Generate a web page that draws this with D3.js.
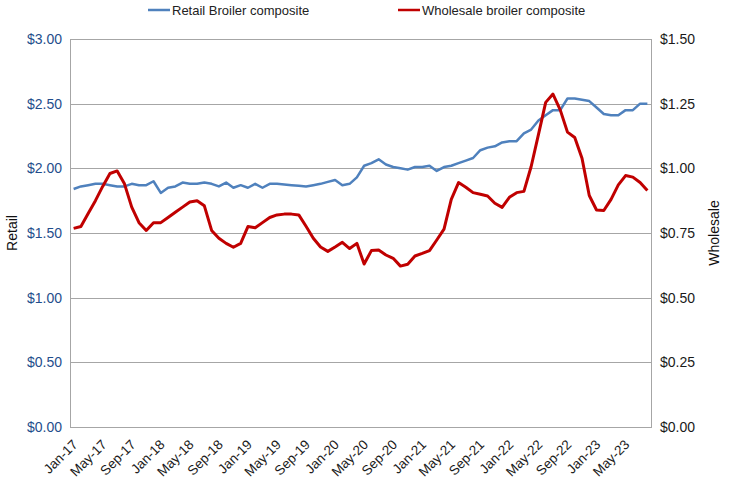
<!doctype html>
<html>

<head>
    <meta charset="UTF-8">
    <title>broiler composite</title>
    <script src="https://d3js.org/d3.v7.min.js"></script>
    <style>
        body {
            margin: 0;
            background: #fff;
        }

        text {
            font-family: "Liberation Sans", Arial, sans-serif;
        }
    </style>
</head>

<body>
    <svg width="737" height="486"></svg>
    <script>
        // monthly categories Jan-17 .. Aug-23
        var monthNames = ["Jan", "Feb", "Mar", "Apr", "May", "Jun", "Jul", "Aug", "Sep", "Oct", "Nov", "Dec"];
        var years = ["17", "18", "19", "20", "21", "22", "23"];
        var months = [];
        years.forEach(function (y) {
            monthNames.forEach(function (m) {
                if (months.length < 80) months.push(m + "-" + y);
            });
        });

        var tickLabels = ["Jan-17", "May-17", "Sep-17", "Jan-18", "May-18", "Sep-18", "Jan-19", "May-19", "Sep-19",
            "Jan-20", "May-20", "Sep-20", "Jan-21", "May-21", "Sep-21", "Jan-22", "May-22", "Sep-22", "Jan-23", "May-23"];

        var retail = [1.84, 1.86, 1.87, 1.88, 1.88, 1.87, 1.86, 1.86, 1.88, 1.87, 1.87, 1.90,
            1.81, 1.85, 1.86, 1.89, 1.88, 1.88, 1.89, 1.88, 1.86, 1.89, 1.85, 1.87,
            1.85, 1.88, 1.85, 1.88, 1.88, 1.875, 1.87, 1.865, 1.86, 1.87, 1.88, 1.895,
            1.91, 1.87, 1.88, 1.93, 2.02, 2.04, 2.07, 2.03, 2.01, 2.00, 1.99, 2.01,
            2.01, 2.02, 1.98, 2.01, 2.02, 2.04, 2.06, 2.08, 2.14, 2.16, 2.17, 2.20,
            2.21, 2.21, 2.27, 2.30, 2.37, 2.41, 2.45, 2.45, 2.54, 2.54, 2.53, 2.52,
            2.47, 2.42, 2.41, 2.41, 2.45, 2.45, 2.50, 2.50];

        var wholesale = [0.768, 0.775, 0.825, 0.875, 0.93, 0.98, 0.99, 0.94, 0.85, 0.79, 0.76, 0.79,
            0.79, 0.81, 0.83, 0.85, 0.87, 0.875, 0.855, 0.76, 0.73, 0.71, 0.695, 0.71,
            0.775, 0.77, 0.79, 0.81, 0.82, 0.823, 0.823, 0.82, 0.776, 0.73, 0.696, 0.679,
            0.696, 0.714, 0.69, 0.71, 0.63, 0.682, 0.684, 0.665, 0.652, 0.622, 0.629, 0.661,
            0.671, 0.682, 0.723, 0.765, 0.88, 0.945, 0.927, 0.906, 0.90, 0.893, 0.865, 0.849,
            0.888, 0.906, 0.911, 1.007, 1.13, 1.255, 1.287, 1.226, 1.14, 1.119, 1.039, 0.895,
            0.839, 0.837, 0.88, 0.936, 0.972, 0.966, 0.945, 0.914];

        var retailTicks = [0, 0.5, 1, 1.5, 2, 2.5, 3];
        var wholesaleTicks = [0, 0.25, 0.5, 0.75, 1, 1.25, 1.5];

        var plotLeft = 70, plotRight = 651, plotTop = 39, plotBottom = 427;
        var blue = "#4F81BD", red = "#C00000";

        var svg = d3.select("svg");

        var x = d3.scalePoint().domain(months).range([plotLeft, plotRight]).padding(0.5);
        var yL = d3.scaleLinear().domain([0, 3]).range([plotBottom, plotTop]);
        var yR = d3.scaleLinear().domain([0, 1.5]).range([plotBottom, plotTop]);

        // gridlines
        svg.append("g").selectAll("line").data(retailTicks).enter().append("line")
            .attr("x1", plotLeft).attr("x2", plotRight)
            .attr("y1", function (d) { return Math.round(yL(d)) + 0.5; })
            .attr("y2", function (d) { return Math.round(yL(d)) + 0.5; })
            .attr("stroke", "#a6a6a6").attr("stroke-width", 1);

        // vertical axis lines
        svg.append("line").attr("x1", plotLeft + 0.5).attr("x2", plotLeft + 0.5)
            .attr("y1", plotTop).attr("y2", plotBottom + 1).attr("stroke", "#a6a6a6");
        svg.append("line").attr("x1", plotRight + 0.5).attr("x2", plotRight + 0.5)
            .attr("y1", plotTop).attr("y2", plotBottom + 1).attr("stroke", "#a6a6a6");

        // left axis
        var gl = svg.append("g").attr("transform", "translate(" + plotLeft + ",0)")
            .call(d3.axisLeft(yL).tickValues(retailTicks).tickSize(0).tickPadding(8)
                .tickFormat(function (d) { return "$" + d.toFixed(2); }));
        gl.select(".domain").remove();
        gl.selectAll("text").attr("fill", "#1F4E8C").style("font-size", "14px");

        // right axis
        var gr = svg.append("g").attr("transform", "translate(" + plotRight + ",0)")
            .call(d3.axisRight(yR).tickValues(wholesaleTicks).tickSize(0).tickPadding(9)
                .tickFormat(function (d) { return "$" + d.toFixed(2); }));
        gr.select(".domain").remove();
        gr.selectAll("text").attr("fill", "#1a1a1a").style("font-size", "14px");

        // bottom axis
        var gb = svg.append("g").attr("transform", "translate(0," + plotBottom + ")")
            .call(d3.axisBottom(x).tickValues(tickLabels).tickSize(0));
        gb.select(".domain").attr("stroke", "#a6a6a6");
        gb.selectAll("text")
            .attr("fill", "#1a1a1a").style("font-size", "13.5px")
            .attr("text-anchor", "end")
            .attr("dy", "0.35em")
            .attr("transform", "translate(1,15) rotate(-45)")
            .attr("y", 0).attr("x", 0);

        // lines
        var retailLine = d3.line()
            .x(function (d, i) { return x(months[i]); })
            .y(function (d) { return yL(d); });
        var wholesaleLine = d3.line()
            .x(function (d, i) { return x(months[i]); })
            .y(function (d) { return yR(d); });

        svg.append("path").datum(retail).attr("d", retailLine).attr("fill", "none")
            .attr("stroke", blue).attr("stroke-width", 2.5).attr("stroke-linejoin", "round");
        svg.append("path").datum(wholesale).attr("d", wholesaleLine).attr("fill", "none")
            .attr("stroke", red).attr("stroke-width", 3).attr("stroke-linejoin", "round");

        // axis titles
        svg.append("text").attr("transform", "translate(17,233) rotate(-90)").attr("text-anchor", "middle")
            .style("font-size", "14px").attr("fill", "#111").text("Retail");
        svg.append("text").attr("transform", "translate(719,233) rotate(-90)").attr("text-anchor", "middle")
            .style("font-size", "14px").attr("fill", "#111").text("Wholesale");

        // legend
        var legend = [{ name: "Retail Broiler composite", color: blue, x: 148 },
            { name: "Wholesale broiler composite", color: red, x: 398 }];
        var lg = svg.append("g").selectAll("g").data(legend).enter().append("g");
        lg.append("line").attr("x1", function (d) { return d.x; }).attr("x2", function (d) { return d.x + 22; })
            .attr("y1", 10).attr("y2", 10).attr("stroke", function (d) { return d.color; }).attr("stroke-width", 2.5);
        lg.append("text").attr("x", function (d) { return d.x + 24; }).attr("y", 14.5)
            .style("font-size", "13px").attr("fill", "#222").text(function (d) { return d.name; });
    </script>
</body>

</html>
